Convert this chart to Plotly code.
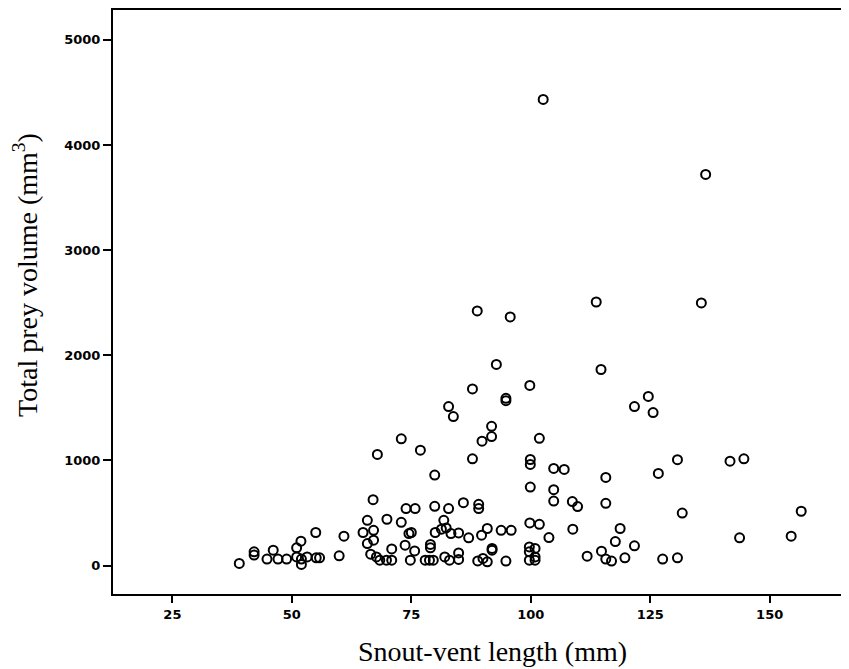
import plotly.graph_objects as go

# Snout-vent length (mm)
svl = [
    102.6, 136.6, 88.8, 95.7, 113.7, 135.7, 92.8, 114.7, 87.8, 99.8,
    94.8, 94.8, 82.8, 121.7, 124.6, 125.6, 130.7, 126.7, 141.7, 144.6,
    131.7, 156.6, 154.5, 143.7, 121.7, 127.6, 130.7, 83.8, 91.8, 91.8,
    89.8, 72.9, 101.8, 67.9, 76.9, 87.8, 79.9, 99.9, 99.9, 99.9,
    104.8, 104.8, 108.7, 109.8, 115.7, 115.7, 85.9, 89.1, 89.1, 99.8,
    101.8, 103.8, 108.8, 118.7, 117.7, 93.8, 95.9, 90.9, 89.7, 84.9,
    87.0, 91.9, 91.9, 99.7, 100.9, 99.7, 100.9, 99.7, 100.9, 94.8,
    84.9, 84.9, 88.9, 90.0, 90.9, 111.8, 114.8, 115.7, 116.9, 119.7,
    67.0, 55.0, 60.9, 64.9, 65.8, 67.1, 69.9, 72.9, 73.9, 75.8,
    79.9, 82.8, 51.9, 51.0, 65.8, 67.1, 73.7, 70.9, 74.5, 75.0,
    75.7, 79.0, 79.0, 80.0, 81.8, 81.3, 82.3, 83.3, 46.1, 44.8,
    47.1, 48.9, 51.0, 52.0, 52.0, 53.2, 55.1, 55.8, 59.9, 66.5,
    67.7, 68.4, 69.8, 70.9, 74.8, 77.9, 78.8, 79.6, 82.0, 83.0,
    39.0, 42.1, 42.1, 104.8, 107.0,
]

# Total prey volume (mm^3)
volume = [
    4434, 3720, 2422, 2365, 2507, 2498, 1913, 1865, 1680, 1714,
    1591, 1569, 1512, 1512, 1609, 1455, 1007, 877, 993, 1016,
    500, 517, 280, 264, 188, 62, 74, 1417, 1325, 1227,
    1183, 1206, 1211, 1057, 1098, 1016, 861, 1009, 962, 747,
    722, 614, 609, 561, 592, 839, 599, 583, 542, 406,
    393, 267, 346, 353, 229, 336, 336, 353, 289, 311,
    264, 163, 147, 178, 163, 131, 83, 52, 52, 43,
    121, 59, 45, 68, 36, 90, 137, 62, 43, 74,
    627, 315, 280, 315, 431, 336, 441, 412, 542, 542,
    564, 542, 232, 169, 210, 242, 194, 159, 305, 315,
    140, 201, 169, 315, 431, 346, 358, 305, 147, 62,
    62, 62, 83, 62, 11, 83, 74, 74, 93, 109,
    83, 52, 52, 52, 52, 52, 52, 52, 83, 52,
    21, 131, 100, 924, 915,
]

x_ticks = [25, 50, 75, 100, 125, 150]
y_ticks = [0, 1000, 2000, 3000, 4000, 5000]

fig = go.Figure()
fig.add_trace(go.Scatter(
    x=svl, y=volume, mode="markers",
    marker=dict(symbol="circle-open", size=9, color="black",
                line=dict(width=2, color="black")),
    showlegend=False, hoverinfo="x+y",
))

tick_font = dict(family="DejaVu Sans", size=13, color="black", weight="bold")

fig.update_xaxes(
    range=[12.57, 166.6], tickvals=x_ticks, ticktext=[str(v) for v in x_ticks],
    ticks="outside", ticklen=7, tickwidth=2, tickcolor="black",
    showline=True, linewidth=2, linecolor="black", mirror=True,
    showgrid=False, zeroline=False, tickfont=tick_font,
)
fig.update_yaxes(
    range=[-270, 5284], tickvals=y_ticks, ticktext=[str(v) for v in y_ticks],
    ticks="outside", ticklen=8, tickwidth=2, tickcolor="black",
    showline=True, linewidth=2, linecolor="black", mirror=False,
    showgrid=False, zeroline=False, tickfont=tick_font,
)

fig.update_layout(
    width=841, height=661,
    margin=dict(l=105, r=0, t=0, b=75, pad=0),
    plot_bgcolor="white", paper_bgcolor="white",
    annotations=[
        dict(text="Snout-vent length (mm)", x=0.516, y=-0.099,
             xref="paper", yref="paper", xanchor="center", yanchor="middle",
             showarrow=False,
             font=dict(family="Liberation Serif", size=28, color="black")),
        dict(text="Total prey volume (mm<sup>3</sup>)", x=-0.119, y=0.547,
             xref="paper", yref="paper", xanchor="center", yanchor="middle",
             textangle=-90, showarrow=False,
             font=dict(family="Liberation Serif", size=28, color="black")),
    ],
)

fig.write_html("out.html")
